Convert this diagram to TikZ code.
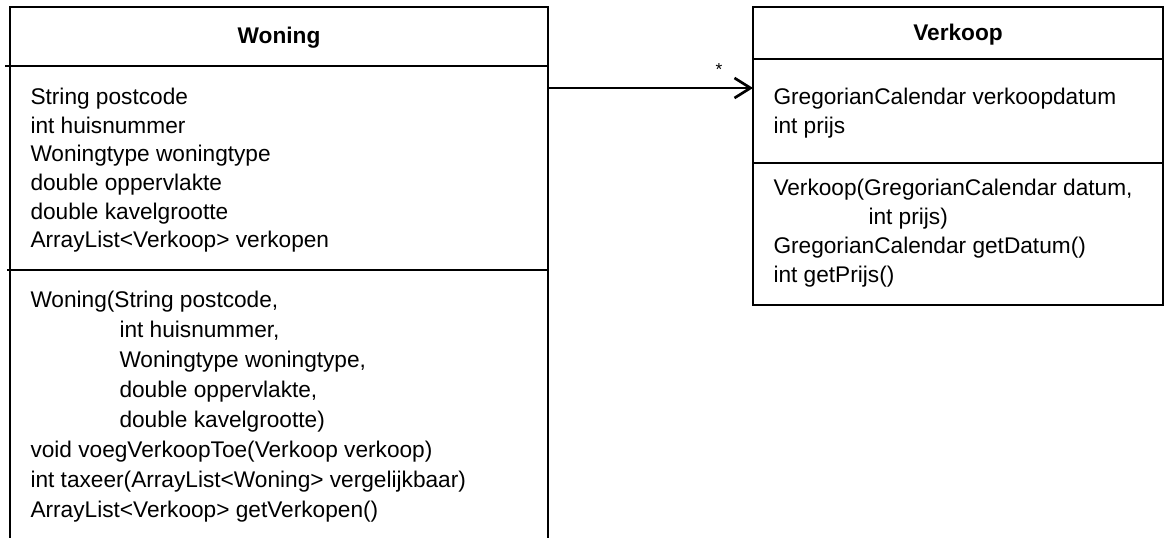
\documentclass[tikz,border=0pt]{standalone}
\usepackage{fontspec}
\setmainfont{Liberation Sans}
\usetikzlibrary{arrows.meta}

\tikzset{every picture/.style={line width=0.75pt}}
\tikzset{
	classline/.style={line width=1.2pt},
	member/.style={anchor=west, inner sep=0pt, text height=12pt, text depth=3.5pt, font=\fontsize{17}{20}\selectfont},
	classname/.style={inner sep=0pt, font=\bfseries\fontsize{17}{20}\selectfont},
	assoc/.style={line width=2pt, -{Straight Barb[length=12pt,width=15pt]}}}

\begin{document}
\begin{tikzpicture}[x=0.75pt,y=0.75pt,yscale=-1,xscale=1]
	\useasboundingbox (0,0) rectangle (1164,538);

	%Shape: Class Woning (open at the bottom)
	\draw [classline] (10,545) -- (10,7) -- (548,7) -- (548,545) ;
	\draw [classline] (5,66) -- (548,66) ;
	\draw [classline] (7,270) -- (548,270) ;
	%Shape: Class Verkoop
	\draw [classline] (753,7) -- (1163,7) -- (1163,305) -- (753,305) -- cycle ;
	\draw [classline] (753,59) -- (1163,59) ;
	\draw [classline] (753,163) -- (1163,163) ;

	% Text Node
	\node [classname] (woning) at (279,38) {Woning};
	% Text Node
	\node [member] (wAttr1) at (30,99) {String postcode};
	\node [member] (wAttr2) at (30,127.6) {int huisnummer};
	\node [member] (wAttr3) at (30,156.2) {Woningtype woningtype};
	\node [member] (wAttr4) at (30,184.8) {double oppervlakte};
	\node [member] (wAttr5) at (30,213.4) {double kavelgrootte};
	\node [member] (wAttr6) at (30,242) {ArrayList<Verkoop> verkopen};
	% Text Node
	\node [member] (wOp1) at (30,302) {Woning(String postcode,};
	\node [member] (wOp1b) at (119,332) {int huisnummer,};
	\node [member] (wOp1c) at (119,362) {Woningtype woningtype,};
	\node [member] (wOp1d) at (119,392) {double oppervlakte,};
	\node [member] (wOp1e) at (119,422) {double kavelgrootte)};
	\node [member] (wOp2) at (30,452) {void voegVerkoopToe(Verkoop verkoop)};
	\node [member] (wOp3) at (30,482) {int taxeer(ArrayList<Woning> vergelijkbaar)};
	\node [member] (wOp4) at (30,512) {ArrayList<Verkoop> getVerkopen()};

	% Text Node
	\node [classname] (verkoop) at (958,35) {Verkoop};
	% Text Node
	\node [member] (vAttr1) at (773,99) {GregorianCalendar verkoopdatum};
	\node [member] (vAttr2) at (773,128) {int prijs};
	% Text Node
	\node [member] (vOp1) at (773,190) {Verkoop(GregorianCalendar datum,};
	\node [member] (vOp1b) at (868,219) {int prijs)};
	\node [member] (vOp2) at (773,248) {GregorianCalendar getDatum()};
	\node [member] (vOp3) at (773,277) {int getPrijs()};

	%Association
	\coordinate (woningE) at (548,88);
	\coordinate (verkoopW) at (753,88);
	\draw [assoc] (woningE) -- (verkoopW);
	% Text Node
	\node [font=\fontsize{13}{15}\selectfont, inner sep=0pt] (multStar) at (719,70) {*};

\end{tikzpicture}
\end{document}
